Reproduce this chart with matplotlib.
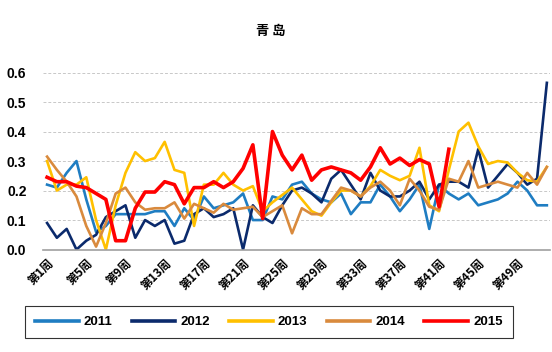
import numpy as np
import matplotlib
matplotlib.use("Agg")
import matplotlib.pyplot as plt

plt.rcParams['font.family'] = ['Liberation Sans', 'Noto Sans CJK SC', 'DejaVu Sans']

# data (weekly values)
weeks = list(range(1, 53))
tick_weeks = list(range(1, 53, 4))
tick_labels = ["第%d周" % w for w in tick_weeks]

y2011 = [0.22, 0.21, 0.26, 0.30, 0.17, 0.06, 0.08, 0.12, 0.12, 0.12, 0.12, 0.13, 0.13,
         0.08, 0.14, 0.10, 0.18, 0.14, 0.15, 0.16, 0.19, 0.10, 0.10, 0.18, 0.17, 0.22,
         0.23, 0.19, 0.17, 0.16, 0.19, 0.12, 0.16, 0.16, 0.22, 0.18, 0.13, 0.17, 0.22,
         0.07, 0.22, 0.19, 0.17, 0.19, 0.15, 0.16, 0.17, 0.19, 0.23, 0.20, 0.15, 0.15]
y2012 = [0.09, 0.04, 0.07, 0.00, 0.03, 0.05, 0.11, 0.13, 0.15, 0.04, 0.10, 0.08, 0.10,
         0.02, 0.03, 0.12, 0.14, 0.11, 0.12, 0.14, 0.00, 0.15, 0.11, 0.09, 0.15, 0.20,
         0.21, 0.19, 0.16, 0.24, 0.27, 0.22, 0.17, 0.26, 0.20, 0.18, 0.18, 0.20, 0.23,
         0.17, 0.22, 0.23, 0.23, 0.21, 0.34, 0.21, 0.25, 0.29, 0.26, 0.22, 0.24, 0.565]
y2013 = [0.30, 0.20, 0.22, 0.22, 0.245, 0.10, 0.00, 0.15, 0.26, 0.33, 0.30, 0.31, 0.365,
         0.27, 0.26, 0.08, 0.22, 0.22, 0.26, 0.22, 0.20, 0.215, 0.13, 0.16, 0.185, 0.21,
         0.17, 0.13, 0.115, 0.16, 0.20, 0.20, 0.18, 0.215, 0.27, 0.25, 0.235, 0.25, 0.345,
         0.15, 0.13, 0.27, 0.40, 0.43, 0.35, 0.29, 0.30, 0.295, 0.26, 0.235, 0.23, 0.28]
y2014 = [0.315, 0.27, 0.23, 0.18, 0.08, 0.01, 0.09, 0.19, 0.21, 0.16, 0.135, 0.14, 0.14,
         0.16, 0.105, 0.155, 0.14, 0.125, 0.155, 0.135, 0.14, 0.145, 0.11, 0.13, 0.15, 0.055,
         0.14, 0.12, 0.12, 0.165, 0.21, 0.20, 0.18, 0.21, 0.23, 0.20, 0.15, 0.24, 0.20,
         0.145, 0.135, 0.24, 0.23, 0.30, 0.21, 0.22, 0.23, 0.22, 0.21, 0.26, 0.22, 0.28]
y2015 = [0.245, 0.23, 0.23, 0.215, 0.21, 0.19, 0.17, 0.03, 0.03, 0.14, 0.195, 0.195, 0.23,
         0.22, 0.155, 0.21, 0.21, 0.23, 0.21, 0.23, 0.275, 0.355, 0.105, 0.40, 0.32, 0.27,
         0.32, 0.235, 0.27, 0.28, 0.27, 0.26, 0.235, 0.28, 0.345, 0.29, 0.31, 0.285, 0.305,
         0.29, 0.145, 0.34]

series = [("2011", y2011, "#1f7dc2", 1.9),
          ("2012", y2012, "#0b2a6c", 1.9),
          ("2013", y2013, "#ffc000", 1.9),
          ("2014", y2014, "#d98a3d", 1.9),
          ("2015", y2015, "#ff0000", 2.6)]

fig = plt.figure(figsize=(5.52, 3.52), dpi=100)
ax = fig.add_axes([0.078, 0.291, 0.918, 0.503])

for name, vals, col, lw in series:
    ax.plot(weeks[:len(vals)], vals, color=col, lw=lw, label=name, solid_joinstyle='round')

ax.set_xlim(0.59, 52.3)
ax.set_ylim(0, 0.6)
ax.set_yticks(np.arange(0, 0.61, 0.1))
ax.set_yticklabels(["%.1f" % v for v in np.arange(0, 0.61, 0.1)],
                   fontsize=10, fontweight='bold')
ax.set_xticks(tick_weeks)
ax.set_xticklabels(tick_labels, rotation=45, ha='right', va='top',
                   fontsize=8.5, fontweight='bold',
                   family=['Noto Sans CJK SC', 'DejaVu Sans'], rotation_mode='anchor')
ax.tick_params(axis='both', length=0)
ax.tick_params(axis='y', pad=12)
ax.tick_params(axis='x', pad=5)

ax.yaxis.grid(True, color='#c8c8c8', linestyle=(0, (3, 2)), lw=0.7)
for s in ['left', 'right', 'top']:
    ax.spines[s].set_visible(False)
ax.spines['bottom'].set_color('#a0a0a0')
ax.spines['bottom'].set_linewidth(1.2)

fig.text(0.49, 0.912, "青 岛", ha='center', va='center', fontsize=9.5,
         fontweight='bold', family=['Noto Sans CJK SC', 'DejaVu Sans'])

leg = fig.legend(loc='center', bbox_to_anchor=(0.487, 0.085), ncol=5,
                 frameon=True, fancybox=False, edgecolor='black',
                 handlelength=3.3, columnspacing=1.45, handletextpad=0.4,
                 prop={'size': 9.5, 'weight': 'bold'}, borderpad=0.75, borderaxespad=0)
leg.get_frame().set_linewidth(0.8)
for h in leg.get_lines():
    h.set_linewidth(2.6)

fig.savefig("out.png", dpi=100)
